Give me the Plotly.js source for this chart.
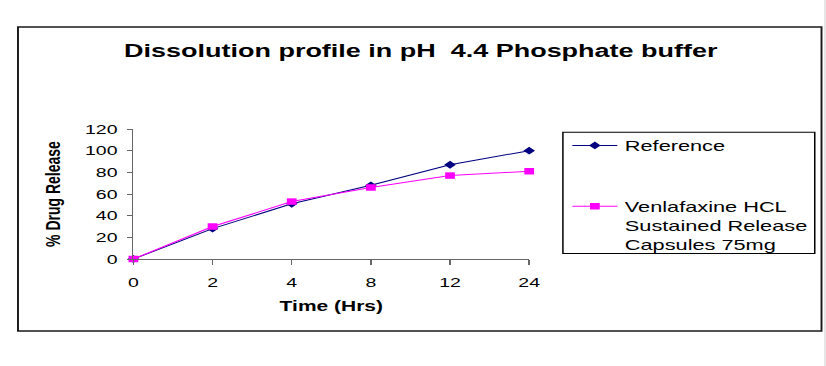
<!DOCTYPE html>
<html>
<head>
<meta charset="utf-8">
<script src="https://cdn.plot.ly/plotly-3.0.1.min.js"></script>
<style>
  html, body { margin: 0; padding: 0; background: #ffffff; overflow: hidden; }
  #chart { width: 551px; height: 366px; transform: scaleX(1.4991); transform-origin: 0 0; }
</style>
</head>
<body>
<div id="chart"></div>
<script>
// ---- Data ----
const hours = ['0', '2', '4', '8', '12', '24'];
const referenceRelease = [0, 28, 51, 68, 87, 100];
const venlafaxineRelease = [0, 30, 53, 66, 77, 81];
const yTickValues = [0, 20, 40, 60, 80, 100, 120];
const seriesNames = ['Reference', 'Venlafaxine HCL<br>Sustained Release<br>Capsules 75mg'];

// ---- Geometry (in unstretched page pixels) ----
const W = 551, H = 366;
const M = { l: 89, r: 198, t: 129, b: 107 };
const plotW = W - M.l - M.r, plotH = H - M.t - M.b;
const px = u => (u - M.l) / plotW;          // page x -> paper x
const py = v => (H - M.b - v) / plotH;      // page y -> paper y

const FONT = 'Liberation Sans, Arial, Helvetica, sans-serif';

const traces = [
  {
    x: hours, y: referenceRelease, name: seriesNames[0], type: 'scatter', mode: 'lines+markers',
    legendgroup: 'a', cliponaxis: false,
    line: { color: '#000080', width: 1 },
    marker: { symbol: 'diamond', size: 6, color: '#000080' }
  },
  {
    x: hours, y: venlafaxineRelease, name: seriesNames[1], type: 'scatter', mode: 'lines+markers',
    legendgroup: 'b', cliponaxis: false,
    line: { color: '#FF00FF', width: 1 },
    marker: { symbol: 'square', size: 6.5, color: '#FF00FF' }
  }
];

const layout = {
  width: W, height: H,
  margin: M,
  paper_bgcolor: '#ffffff', plot_bgcolor: '#ffffff',
  font: { family: FONT, color: '#000000' },
  showlegend: true,
  title: {
    text: '<b>Dissolution profile in pH\u00a0 4.4 Phosphate buffer</b>',
    font: { family: FONT, size: 18, color: '#000000' },
    xref: 'container', yref: 'container',
    x: 280.7 / W, y: 1 - 51 / H, xanchor: 'center', yanchor: 'middle'
  },
  xaxis: {
    type: 'category', range: [0, 5], autorange: false, fixedrange: true,
    showline: true, linecolor: '#666666', linewidth: 1, mirror: false,
    ticks: 'outside', ticklen: 5, tickcolor: '#666666', tickwidth: 1,
    showgrid: false, zeroline: false,
    tickfont: { family: FONT, size: 13, color: '#000000' },
    ticklabelstandoff: 6,
    title: { text: '<b>Time (Hrs)</b>', font: { family: FONT, size: 14, color: '#000000' }, standoff: 12 }
  },
  yaxis: {
    range: [0, 120], autorange: false, fixedrange: true,
    tickvals: yTickValues, ticktext: yTickValues.map(String),
    showline: true, linecolor: '#666666', linewidth: 1,
    ticks: 'outside', ticklen: 3, tickcolor: '#666666', tickwidth: 1,
    showgrid: false, zeroline: false,
    tickfont: { family: FONT, size: 13, color: '#000000' },
    ticklabelstandoff: 4,
    title: { text: '<b>% Drug Release</b>', font: { family: FONT, size: 14, color: '#000000' }, standoff: 12 }
  },
  legend: {
    xref: 'container', yref: 'container',
    x: 376.8 / W, y: 1 - 129.5 / H, xanchor: 'left', yanchor: 'top',
    bgcolor: 'rgba(0,0,0,0)', borderwidth: 0,
    font: { family: FONT, size: 14.5, color: '#000000' },
    traceorder: 'grouped', tracegroupgap: 39, valign: 'top'
  },
  shapes: [
    // outer chart-area border
    { type: 'rect', xref: 'paper', yref: 'paper', layer: 'below',
      x0: px(12), x1: px(548), y0: py(331), y1: py(27),
      line: { color: '#1a1a1a', width: 1.3 }, fillcolor: 'rgba(0,0,0,0)' },
    // legend frame
    { type: 'rect', xref: 'paper', yref: 'paper', layer: 'below',
      x0: px(375.5), x1: px(543.5), y0: py(253.5), y1: py(132.3),
      line: { color: '#000000', width: 1 }, fillcolor: 'rgba(0,0,0,0)' },
    // faint page edge at the far right
    { type: 'line', xref: 'paper', yref: 'paper', layer: 'below',
      x0: px(550.3), x1: px(550.3), y0: py(366), y1: py(0),
      line: { color: '#dddddd', width: 1 } }
  ]
};

Plotly.newPlot('chart', traces, layout, { displayModeBar: false, staticPlot: true });
</script>
</body>
</html>
